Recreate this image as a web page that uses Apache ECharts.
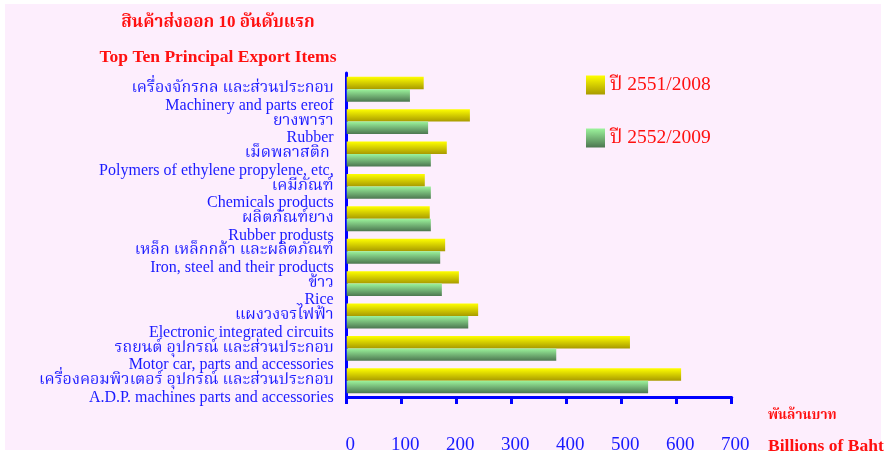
<!DOCTYPE html>
<html>
<head>
<meta charset="utf-8">
<script src="https://cdn.jsdelivr.net/npm/echarts@6/dist/echarts.min.js"></script>
<style>
html,body{margin:0;padding:0;background:#ffffff;}
#bg{position:absolute;left:5px;top:4px;width:876px;height:446px;background:#fdeefd;}
#chart{position:absolute;left:0;top:0;width:890px;height:455px;}
</style>
</head>
<body>
<div id="bg"></div>
<div id="chart"></div>
<script>
const categoriesThai = [
  'เครื่องจักรกล และส่วนประกอบ',
  'ยางพารา',
  'เม็ดพลาสติก ',
  'เคมีภัณฑ์',
  'ผลิตภัณฑ์ยาง',
  'เหล็ก เหล็กกล้า และผลิตภัณฑ์',
  'ข้าว',
  'แผงวงจรไฟฟ้า',
  'รถยนต์ อุปกรณ์ และส่วนประกอบ',
  'เครื่องคอมพิวเตอร์ อุปกรณ์ และส่วนประกอบ'
];
const categoriesEng = [
  'Machinery and parts ereof',
  'Rubber',
  'Polymers of ethylene propylene, etc,',
  'Chemicals products',
  'Rubber produsts',
  'Iron, steel and their products',
  'Rice',
  'Electronic integrated circuits',
  'Motor car, parts and accessories',
  'A.D.P. machines parts and accessories'
];
const series2008 = [140, 224, 182, 142, 151, 179, 204, 239, 515, 608];
const series2009 = [115, 148, 153, 153, 153, 170, 173, 221, 381, 548];
const seriesNames = ['ปี 2551/2008', 'ปี 2552/2009'];
const xTicks = [0, 100, 200, 300, 400, 500, 600, 700];

const serif = "'Liberation Serif', Norasi, 'Noto Serif Thai', 'DejaVu Serif', serif";
const blue = '#1a1aff';
const red = '#ff1010';

const categories = categoriesThai.map((t, i) => t + '|' + categoriesEng[i]);

const yellowGrad = new echarts.graphic.LinearGradient(0, 0, 0, 1, [
  {offset: 0, color: '#ffff00'},
  {offset: 1, color: '#a89a00'}
]);
const greenGrad = new echarts.graphic.LinearGradient(0, 0, 0, 1, [
  {offset: 0, color: '#9cf49c'},
  {offset: 1, color: '#4c7650'}
]);

const chart = echarts.init(document.getElementById('chart'), null, {renderer: 'canvas'});
chart.setOption({
  animation: false,
  backgroundColor: 'transparent',
  grid: {left: 346.7, top: 73, right: 158.3, bottom: 55, containLabel: false},
  legend: {
    orient: 'vertical',
    left: 586,
    top: 75,
    padding: 0,
    itemWidth: 19,
    itemHeight: 19,
    itemGap: 33,
    icon: 'rect',
    textStyle: {color: red, fontSize: 19.5, fontFamily: serif},
    data: seriesNames
  },
  xAxis: {
    type: 'value',
    min: 0,
    max: 700,
    interval: 100,
    axisLine: {show: true, lineStyle: {color: '#0000ff', width: 3}},
    axisTick: {show: true, length: 7, lineStyle: {color: '#0000ff', width: 3}},
    splitLine: {show: false},
    axisLabel: {
      color: blue, fontSize: 19, fontFamily: serif, margin: 39,
      padding: [0, 0, 0, 7],
      showMinLabel: true, showMaxLabel: true,
      formatter: v => xTicks.includes(v) ? String(v) : ''
    }
  },
  yAxis: {
    type: 'category',
    inverse: true,
    data: categories,
    axisLine: {show: true, lineStyle: {color: '#0000ff', width: 3}},
    axisTick: {show: false},
    axisLabel: {
      margin: 13,
      align: 'right',
      interval: 0,
      showMinLabel: true,
      showMaxLabel: true,
      hideOverlap: false,
      padding: [15, 0, 0, 0],
      formatter: v => {
        const p = v.split('|');
        return '{th|' + p[0] + '}\n{en|' + p[1] + '}';
      },
      rich: {
        th: {color: blue, fontSize: 16, fontFamily: serif, lineHeight: 18, align: 'right'},
        en: {color: blue, fontSize: 16, fontFamily: serif, lineHeight: 17, align: 'right'}
      }
    }
  },
  graphic: [
    {type: 'text', style: {text: 'สินค้าส่งออก 10 อันดับแรก', x: 218, y: 14, fill: red, fontSize: 17, fontWeight: 'bold', fontFamily: serif, textAlign: 'center'}},
    {type: 'text', style: {text: 'Top Ten Principal Export Items', x: 218, y: 48, fill: red, fontSize: 17.5, fontWeight: 'bold', fontFamily: serif, textAlign: 'center'}},
    {type: 'text', style: {text: 'พันล้านบาท', x: 768, y: 409, fill: red, fontSize: 13.5, fontWeight: 'bold', fontFamily: serif}},
    {type: 'text', style: {text: 'Billions of Baht', x: 768, y: 437, fill: red, fontSize: 17.5, fontWeight: 'bold', fontFamily: serif}}
  ],
  series: [
    {
      name: seriesNames[0], type: 'bar', data: series2008,
      barGap: '0%', barCategoryGap: '23%',
      itemStyle: {color: yellowGrad}
    },
    {
      name: seriesNames[1], type: 'bar', data: series2009,
      barGap: '0%', barCategoryGap: '23%',
      itemStyle: {color: greenGrad}
    }
  ]
});
</script>
</body>
</html>
